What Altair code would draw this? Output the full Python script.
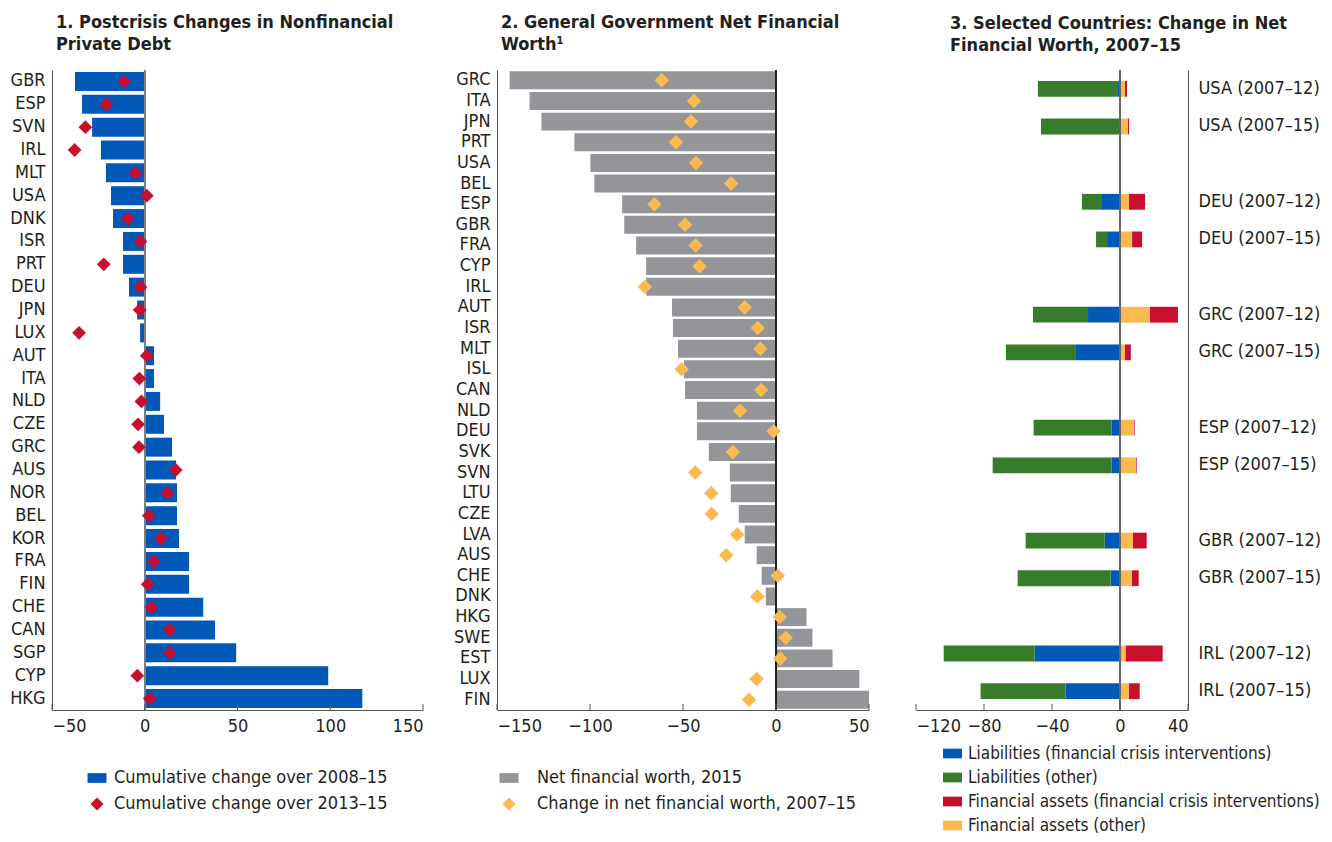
import altair as alt
import pandas as pd

FONT = "DejaVu Sans Condensed, Liberation Sans Narrow, sans-serif"
INK = "#231F20"
BLUE = "#0058B7"
RED = "#C8102E"
GRAY = "#939598"
YELLOW = "#FDB94F"
GREEN = "#377C2B"
RECT = "M-1.46,-0.75H1.46V0.75H-1.46Z"
NB = "\u00a0" * 4
FS = 18

# ---------------- Panel 1 data ----------------
p1_countries = ["GBR", "ESP", "SVN", "IRL", "MLT", "USA", "DNK", "ISR", "PRT", "DEU",
                "JPN", "LUX", "AUT", "ITA", "NLD", "CZE", "GRC", "AUS", "NOR", "BEL",
                "KOR", "FRA", "FIN", "CHE", "CAN", "SGP", "CYP", "HKG"]
p1_change_2008_15 = [-37.6, -33.8, -28.4, -23.6, -20.9, -18.2, -17.1, -11.7, -11.7, -8.5,
                     -4.1, -2.5, 5.0, 5.0, 8.3, 10.4, 14.7, 16.9, 17.4, 17.4,
                     18.5, 23.9, 23.9, 31.5, 37.9, 49.3, 98.9, 117.3]
p1_change_2013_15 = [-11.0, -20.7, -32.0, -37.8, -5.0, 1.1, -9.2, -2.3, -22.1, -2.3,
                     -2.7, -35.4, 1.1, -2.9, -1.8, -3.6, -3.1, 16.7, 12.2, 2.2,
                     8.8, 5.0, 1.6, 3.6, 13.5, 13.5, -4.0, 2.7]
p1_series = ["Cumulative change over 2008–15", "Cumulative change over 2013–15"]
p1_ticks = [-50, 0, 50, 100, 150]

# ---------------- Panel 2 data ----------------
p2_countries = ["GRC", "ITA", "JPN", "PRT", "USA", "BEL", "ESP", "GBR", "FRA", "CYP",
                "IRL", "AUT", "ISR", "MLT", "ISL", "CAN", "NLD", "DEU", "SVK", "SVN",
                "LTU", "CZE", "LVA", "AUS", "CHE", "DNK", "HKG", "SWE", "EST", "LUX", "FIN"]
p2_nfw_2015 = [-143.2, -132.5, -126.1, -108.4, -99.8, -97.7, -82.7, -81.6, -75.2, -69.8,
               -69.8, -55.9, -55.4, -52.7, -49.5, -48.9, -42.5, -42.5, -36.1, -24.8,
               -24.3, -20.0, -16.8, -10.4, -7.7, -5.5, 16.4, 19.6, 30.4, 44.8, 50.0]
p2_change_2007_15 = [-61.4, -44.1, -45.7, -53.8, -43.0, -24.1, -65.4, -48.9, -43.2, -41.1,
                     -70.5, -16.8, -9.8, -8.4, -50.7, -8.0, -19.3, -1.3, -23.2, -43.4,
                     -34.8, -34.6, -20.9, -26.8, 0.9, -10.0, 2.0, 5.2, 2.3, -10.4, -14.5]
p2_series = ["Net financial worth, 2015", "Change in net financial worth, 2007–15"]
p2_ticks = [-150, -100, -50, 0, 50]

# ---------------- Panel 3 data ----------------
p3_rows = ["USA (2007–12)", "USA (2007–15)", "DEU (2007–12)", "DEU (2007–15)",
           "GRC (2007–12)", "GRC (2007–15)", "ESP (2007–12)", "ESP (2007–15)",
           "GBR (2007–12)", "GBR (2007–15)", "IRL (2007–12)", "IRL (2007–15)"]
p3_slots = ["USA (2007–12)", "USA (2007–15)", " ", "DEU (2007–12)", "DEU (2007–15)", "  ",
            "GRC (2007–12)", "GRC (2007–15)", "   ", "ESP (2007–12)", "ESP (2007–15)", "    ",
            "GBR (2007–12)", "GBR (2007–15)", "     ", "IRL (2007–12)", "IRL (2007–15)"]
p3_liab_crisis = [-1.2, -0.4, -10.6, -7.6, -18.8, -25.9, -4.9, -4.9, -9.0, -5.5, -50.2, -32.0]
p3_liab_other = [-47.1, -46.1, -11.8, -6.5, -32.4, -41.2, -45.9, -70.0, -46.5, -54.7, -53.5, -50.0]
p3_asset_crisis = [1.2, 0.6, 9.4, 5.9, 16.5, 3.5, 0.6, 0.6, 8.2, 4.1, 21.8, 6.5]
p3_asset_other = [2.9, 4.7, 5.3, 7.1, 17.6, 2.9, 8.0, 9.2, 7.5, 6.9, 3.3, 5.1]
p3_components = ["Liabilities (financial crisis interventions)", "Liabilities (other)",
                 "Financial assets (financial crisis interventions)", "Financial assets (other)"]
p3_stack_order = [0, 2, 3, 1]
p3_ticks = [-120, -80, -40, 0, 40]

H = 640


def xaxis(vals):
    return alt.Axis(values=vals, title=None, grid=False, ticks=False, domain=True,
                    domainColor="#555555", labelFontSize=FS, labelFont=FONT,
                    labelColor=INK, labelPadding=7, labelOverlap=False)


def yaxis(orient="left", pad=7):
    return alt.Axis(title=None, orient=orient, ticks=False, domain=True, domainColor="#555555",
                    labelFontSize=FS, labelFont=FONT, labelColor=INK, labelPadding=pad,
                    labelOverlap=False)


def tick_layer(vals, dom):
    return alt.Chart(pd.DataFrame({"t": vals})).mark_rule(color="#555555", strokeWidth=1).encode(
        x=alt.X("t:Q", scale=alt.Scale(domain=dom, nice=False, zero=False)),
        y=alt.value(H - 6), y2=alt.value(H))


def legend(x, y, offset, row_pad, fs=FS):
    return alt.Legend(orient="none", legendX=x, legendY=y, title=None, labelFontSize=fs,
                      labelFont=FONT, labelColor=INK, symbolSize=169, labelOffset=offset,
                      rowPadding=row_pad, direction="vertical", symbolStrokeWidth=0,
                      labelLimit=500)


def title(lines, dx):
    return alt.TitleParams(text=lines, anchor="start", frame="group", dx=dx, fontSize=FS,
                           font=FONT, fontWeight="bold", color=INK, offset=15, lineHeight=22)


# ---------------- Panel 1 ----------------
dom1 = [-50, 150]
b1 = pd.DataFrame({"country": p1_countries, "value": p1_change_2008_15, "series": p1_series[0]})
d1 = pd.DataFrame({"country": p1_countries, "value": p1_change_2013_15, "series": p1_series[1]})
lg1 = legend(36, 699, 8, 8)
y1 = alt.Y("country:N", sort=p1_countries,
           scale=alt.Scale(domain=p1_countries, paddingInner=0.17, paddingOuter=0.085),
           axis=yaxis())
col1 = alt.Color("series:N", scale=alt.Scale(domain=p1_series, range=[BLUE, RED]), legend=lg1)
shp1 = alt.Shape("series:N", scale=alt.Scale(domain=p1_series, range=[RECT, "diamond"]), legend=lg1)
bars1 = alt.Chart(b1).mark_bar().encode(
    x=alt.X("value:Q", scale=alt.Scale(domain=dom1, nice=False, zero=False), axis=xaxis(p1_ticks)),
    y=y1, color=col1, shape=shp1)
zero1 = alt.Chart(b1).mark_rule(color="#7f7f7f", strokeWidth=1.5).encode(x=alt.datum(0))
pts1 = alt.Chart(d1).mark_point(filled=True, size=190, opacity=1).encode(
    x="value:Q", y=alt.Y("country:N", sort=p1_countries), color=col1, shape=shp1)
panel1 = alt.layer(bars1, zero1, tick_layer(p1_ticks, dom1), pts1).properties(
    width=371, height=H,
    title=title(["1. Postcrisis Changes in Nonfinancial", NB + "Private Debt"], 4))

# ---------------- Panel 2 ----------------
dom2 = [-150, 50]
b2 = pd.DataFrame({"country": p2_countries, "value": p2_nfw_2015, "series": p2_series[0]})
d2 = pd.DataFrame({"country": p2_countries, "value": p2_change_2007_15, "series": p2_series[1]})
lg2 = legend(3, 699, 19, 8)
y2 = alt.Y("country:N", sort=p2_countries,
           scale=alt.Scale(domain=p2_countries, paddingInner=0.13, paddingOuter=0.065),
           axis=yaxis())
col2 = alt.Color("series:N", scale=alt.Scale(domain=p2_series, range=[GRAY, YELLOW]), legend=lg2)
shp2 = alt.Shape("series:N", scale=alt.Scale(domain=p2_series, range=[RECT, "diamond"]), legend=lg2)
bars2 = alt.Chart(b2).mark_bar().encode(
    x=alt.X("value:Q", scale=alt.Scale(domain=dom2, nice=False, zero=False), axis=xaxis(p2_ticks)),
    y=y2, color=col2, shape=shp2)
zero2 = alt.Chart(b2).mark_rule(color="#222222", strokeWidth=1.5).encode(x=alt.datum(0))
pts2 = alt.Chart(d2).mark_point(filled=True, size=210, opacity=1).encode(
    x="value:Q", y=alt.Y("country:N", sort=p2_countries), color=col2, shape=shp2)
panel2 = alt.layer(bars2, zero2, tick_layer(p2_ticks, dom2), pts2).properties(
    width=372, height=H,
    title=title(["2. General Government Net Financial", NB + "Worth¹"], 4))

# ---------------- Panel 3 ----------------
dom3 = [-120, 40]
recs = []
for i, r in enumerate(p3_rows):
    for comp, vals, o in zip(p3_components,
                             [p3_liab_crisis, p3_liab_other, p3_asset_crisis, p3_asset_other],
                             p3_stack_order):
        recs.append({"row": r, "component": comp, "value": vals[i], "ord": o})
df3 = pd.DataFrame(recs)
lg3 = alt.Legend(orient="none", legendX=28, legendY=675, title=None, labelFontSize=17,
                 labelFont=FONT, labelColor=INK, symbolSize=169, symbolType=RECT,
                 labelOffset=7, rowPadding=6, direction="vertical", symbolStrokeWidth=0,
                 labelLimit=500)
bars3 = alt.Chart(df3).mark_bar().encode(
    x=alt.X("value:Q", stack="zero", scale=alt.Scale(domain=dom3, nice=False, zero=False),
            axis=xaxis(p3_ticks)),
    y=alt.Y("row:N", sort=p3_slots,
            scale=alt.Scale(domain=p3_slots, paddingInner=0.58, paddingOuter=0.29),
            axis=yaxis("right", 10)),
    color=alt.Color("component:N", scale=alt.Scale(domain=p3_components,
                                                   range=[BLUE, GREEN, RED, YELLOW]),
                    legend=lg3),
    order=alt.Order("ord:Q"))
zero3 = alt.Chart(df3).mark_rule(color="#666666", strokeWidth=1).encode(x=alt.datum(0))
panel3 = alt.layer(bars3, zero3, tick_layer(p3_ticks, dom3)).properties(
    width=272, height=H,
    title=title(["3. Selected Countries: Change in Net", NB + "Financial Worth, 2007–15"], 34))

indep = dict(color="independent", shape="independent", x="independent", y="independent")
right = alt.hconcat(panel2, panel3, spacing=45).resolve_scale(**indep).resolve_legend(
    color="independent", shape="independent")
chart = alt.hconcat(panel1, right, spacing=29).resolve_scale(**indep).resolve_legend(
    color="independent", shape="independent").properties(
    padding={"left": 0, "top": 6, "right": 2, "bottom": 0}
).configure(font=FONT).configure_view(stroke=None)

chart.save("out.html", embed_options={"renderer": "svg", "actions": False})
